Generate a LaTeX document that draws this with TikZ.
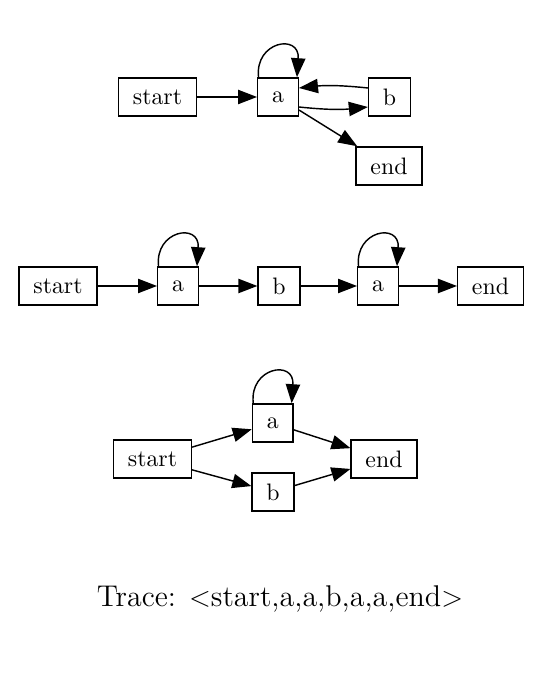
\documentclass[tikz,border=0pt]{standalone}
\usetikzlibrary{arrows.meta,calc}
\begin{document}
\begin{tikzpicture}[x=0.42pt, y=0.42pt,
  every node/.style={font=\fontsize{10}{12}\selectfont},
  state/.style={draw, line width=0.6pt, rectangle, inner xsep=6pt, inner ysep=0pt, minimum height=16pt},
  arr/.style={-{Triangle[length=8pt,width=6pt]}, line width=0.6pt},
  loop/.style={arr, to path={.. controls +(-4,36) and +(3,44) .. (\tikztotarget)}}]
  \useasboundingbox (0,0) rectangle (540,700);

  % Model 1: loop with b, exit to end
  \node[state] (s1) at (157.5, 603) {start};
  \node[state] (a1) at (278, 603) {a};
  \node[state] (b1) at (389.5, 603) {b};
  \node[state] (e1) at (389, 534) {end};
  \draw[arr] (s1) -- (a1);
  \draw[loop] ($(a1.north west)+(1.5,0)$) to ($(a1.north east)+(-2,0)$);
  \draw[arr] ($(a1.east)+(0,-10)$) to[bend right=6] ($(b1.west)+(0,-10)$);
  \draw[arr] ($(b1.west)+(0,9)$) to[bend right=6] ($(a1.east)+(0,9)$);
  \draw[arr] (a1) -- (e1);

  % Model 2: sequence
  \node[state] (s2) at (58, 414) {start};
  \node[state] (a2) at (178, 414) {a};
  \node[state] (b2) at (279, 414) {b};
  \node[state] (c2) at (378, 414) {a};
  \node[state] (e2) at (490.5, 414) {end};
  \draw[arr] (s2) -- (a2);
  \draw[arr] (a2) -- (b2);
  \draw[arr] (b2) -- (c2);
  \draw[arr] (c2) -- (e2);
  \draw[loop] ($(a2.north west)+(1.5,0)$) to ($(a2.north east)+(-2,0)$);
  \draw[loop] ($(c2.north west)+(1.5,0)$) to ($(c2.north east)+(-2,0)$);

  % Model 3: choice
  \node[state] (s3) at (152.5, 241) {start};
  \node[state] (a3) at (272.7, 277) {a};
  \node[state] (b3) at (273, 208) {b};
  \node[state] (e3) at (384, 241) {end};
  \draw[arr] (s3) -- (a3);
  \draw[arr] (s3) -- (b3);
  \draw[arr] (a3) -- (e3);
  \draw[arr] (b3) -- (e3);
  \draw[loop] ($(a3.north west)+(1.5,0)$) to ($(a3.north east)+(-2,0)$);

  % Trace
  \node[anchor=base, font=\fontsize{12.6}{15}\selectfont] (trace) at (280, 93)
    {Trace: $<$start,a,a,b,a,a,end$>$};
\end{tikzpicture}
\end{document}
